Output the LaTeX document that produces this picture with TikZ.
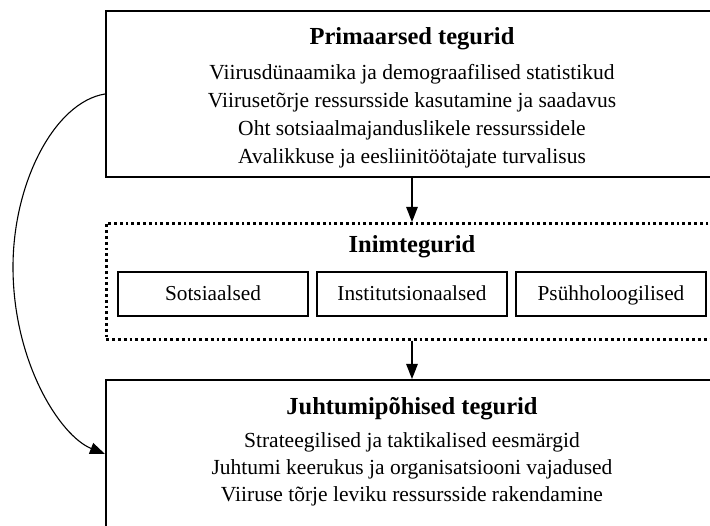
\documentclass[tikz,border=0pt]{standalone}
\usepackage{fontspec}
\setmainfont{Liberation Serif}
\usetikzlibrary{arrows.meta}
\begin{document}
\begin{tikzpicture}[x=1pt,y=-1pt,
  frame/.style={draw, line width=2pt, inner sep=0pt, anchor=north west},
  dotframe/.style={draw, line width=2.6pt, dash pattern=on 2.8pt off 3pt, inner sep=0pt, anchor=north west},
  smallbox/.style={draw, line width=1.3pt, minimum width=190pt, minimum height=44pt, inner sep=0pt,
    text height=15.5pt, text depth=2.5pt, font=\fontsize{21.3}{25}\selectfont},
  heading/.style={inner sep=0pt, anchor=base, font=\bfseries\fontsize{24.5}{28}\selectfont},
  body/.style={inner sep=0pt, anchor=base, font=\fontsize{21.5}{25}\selectfont},
  flow/.style={line width=1.3pt, -{Triangle[length=15pt,width=11.5pt]}},
  curved/.style={line width=1.1pt, -{Triangle[length=15pt,width=11.5pt]}},
]
\useasboundingbox (0,0) rectangle (710,526);
\clip (0,0) rectangle (710,526);
\fill[white] (0,0) rectangle (710,526);

% outer frames (they run past the right edge)
\node[frame, minimum width=620pt, minimum height=166pt] (prim) at (105,10) {};
\node[dotframe, minimum width=620pt, minimum height=116pt] (inim) at (105,222) {};
\node[frame, minimum width=620pt, minimum height=148pt] (juht) at (105,379) {};

% primary factors
\node[heading] (primT) at (412,45) {Primaarsed tegurid};
\node[body] (p1) at (412,80) {Viirusdünaamika ja demograafilised statistikud};
\node[body] (p2) at (412,108) {Viirusetõrje ressursside kasutamine ja saadavus};
\node[body] (p3) at (412,136) {Oht sotsiaalmajanduslikele ressurssidele};
\node[body] (p4) at (412,164) {Avalikkuse ja eesliinitöötajate turvalisus};

% human factors
\node[heading] (inimT) at (412,253) {Inimtegurid};
\node[smallbox] (soc) at (213,294) {Sotsiaalsed};
\node[smallbox] (inst) at (412,294) {Institutsionaalsed};
\node[smallbox] (psy) at (611,294) {Psühholoogilised};

% case-based factors
\node[heading] (juhtT) at (412,415) {Juhtumipõhised tegurid};
\node[body] (j1) at (412,448) {Strateegilised ja taktikalised eesmärgid};
\node[body] (j2) at (412,475) {Juhtumi keerukus ja organisatsiooni vajadused};
\node[body] (j3) at (412,502) {Viiruse tõrje leviku ressursside rakendamine};

% connectors
\draw[flow] (primT |- prim.south) -- (primT |- inim.north);
\draw[flow] (primT |- inim.south) -- (primT |- juht.north);
\coordinate (bend) at (13,267);
\draw[curved] (prim.west) .. controls +(-50,8) and +(0,-85) .. (bend)
  .. controls +(0,95) and +(-45,-18) .. (juht.west);
\end{tikzpicture}
\end{document}
